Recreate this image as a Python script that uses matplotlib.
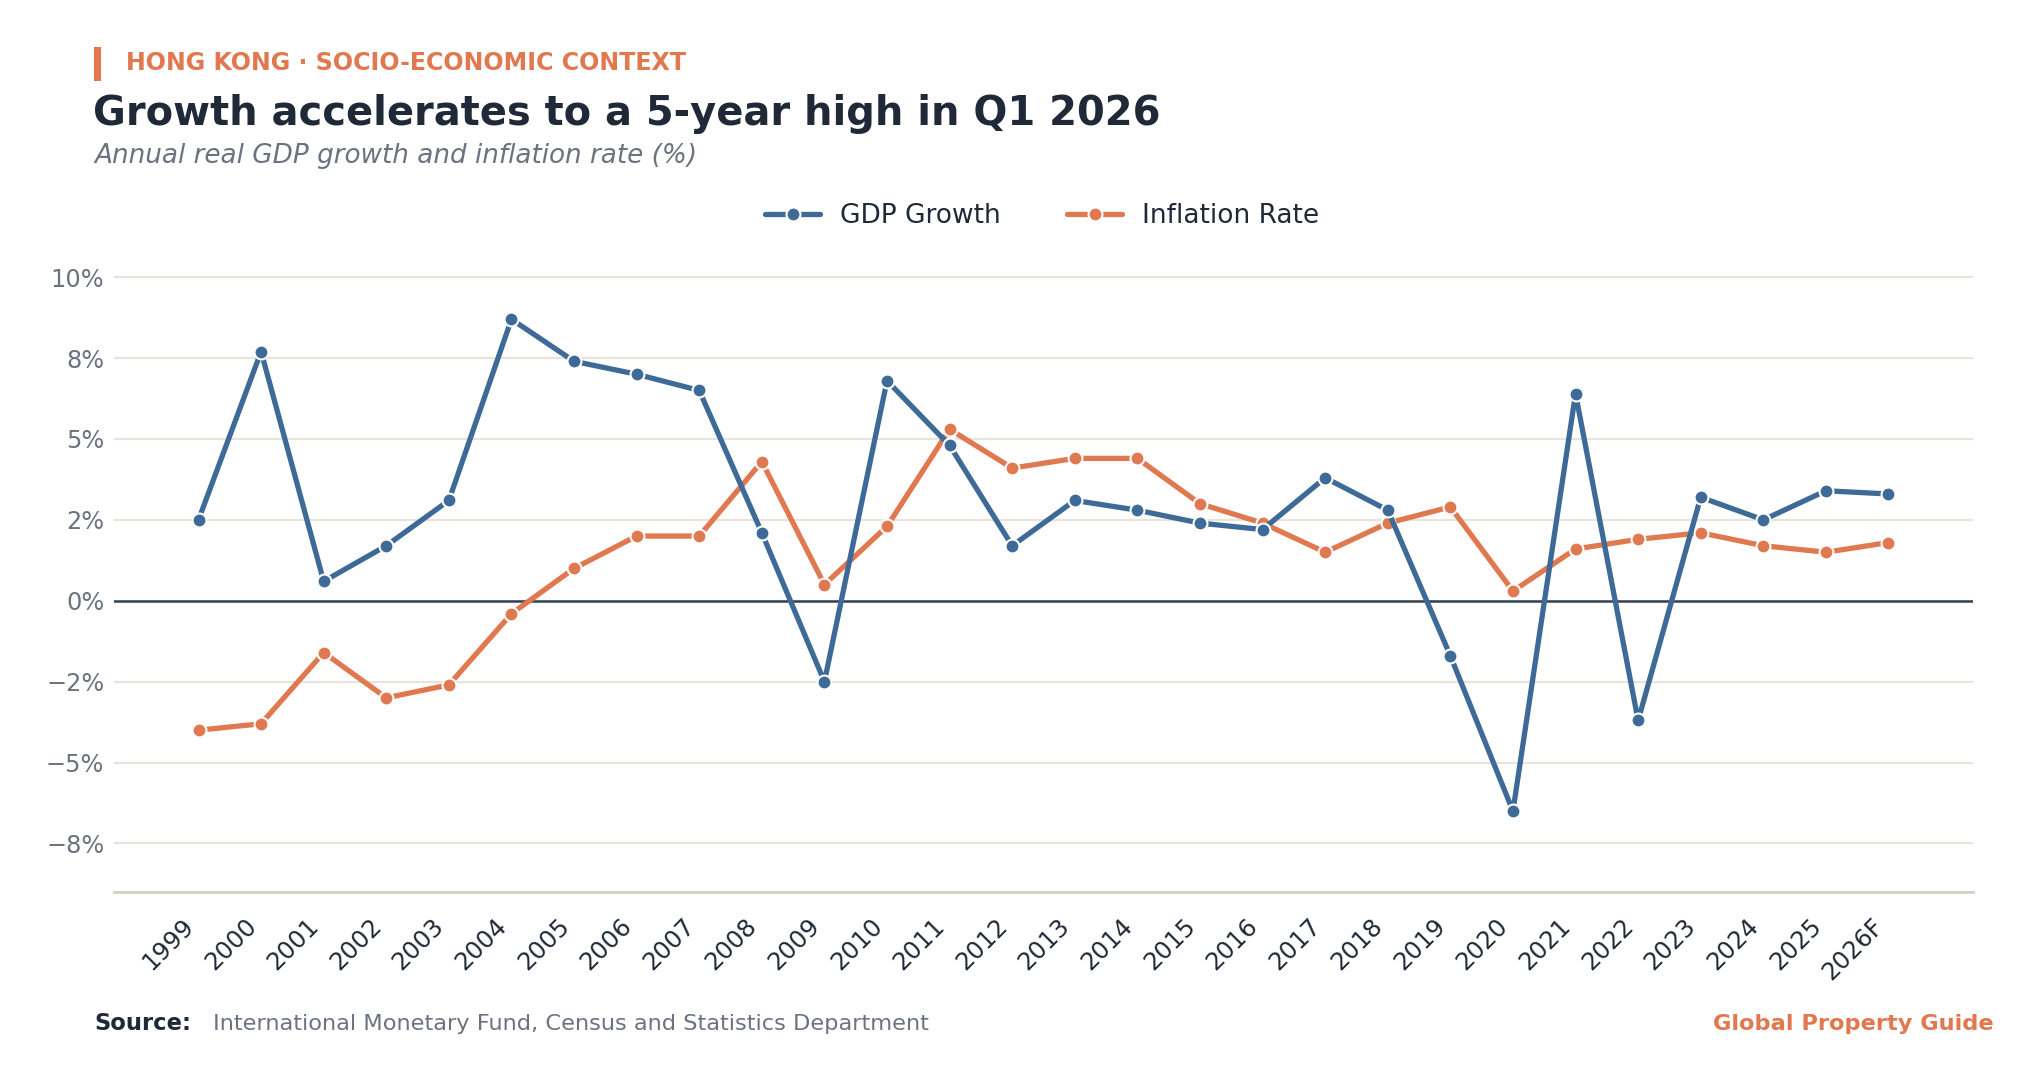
import matplotlib
matplotlib.use("Agg")
import matplotlib.pyplot as plt
from matplotlib.ticker import FuncFormatter, MultipleLocator
from matplotlib.patches import Rectangle

years = ["1999", "2000", "2001", "2002", "2003", "2004", "2005", "2006", "2007",
         "2008", "2009", "2010", "2011", "2012", "2013", "2014", "2015", "2016",
         "2017", "2018", "2019", "2020", "2021", "2022", "2023", "2024", "2025", "2026F"]
gdp_growth = [2.5, 7.7, 0.6, 1.7, 3.1, 8.7, 7.4, 7.0, 6.5, 2.1, -2.5, 6.8, 4.8, 1.7,
              3.1, 2.8, 2.4, 2.2, 3.8, 2.8, -1.7, -6.5, 6.4, -3.7, 3.2, 2.5, 3.4, 3.3]
inflation = [-4.0, -3.8, -1.6, -3.0, -2.6, -0.4, 1.0, 2.0, 2.0, 4.3, 0.5, 2.3, 5.3, 4.1,
             4.4, 4.4, 3.0, 2.4, 1.5, 2.4, 2.9, 0.3, 1.6, 1.9, 2.1, 1.7, 1.5, 1.8]

BLUE = "#3d6a96"
ORANGE = "#e07850"
DARK = "#1f2937"
GRAY = "#6b7280"

W, H = 2039, 1079
fig = plt.figure(figsize=(W / 100, H / 100), dpi=100)
plt.rcParams['font.family'] = ['DejaVu Sans']

def fx(px):
    return px / W

def fy(py):
    return 1 - py / H

ax_left, ax_right, ax_top, ax_bottom = 114, 1973, 261, 892
ax = fig.add_axes([fx(ax_left), fy(ax_bottom), fx(ax_right - ax_left), (ax_bottom - ax_top) / H])

x = list(range(len(years)))
ax.plot(x, gdp_growth, color=BLUE, lw=3.8, marker='o', ms=10, mec='white', mew=1.5,
        label="GDP Growth", zorder=4, solid_capstyle='round')
ax.plot(x, inflation, color=ORANGE, lw=3.8, marker='o', ms=10, mec='white', mew=1.5,
        label="Inflation Rate", zorder=3, solid_capstyle='round')

ax.set_xlim(-1.35, len(years) - 1 + 1.35)
ax.set_ylim(-9.0, 10.5)
ax.yaxis.set_major_locator(MultipleLocator(2.5))
ax.yaxis.set_major_formatter(FuncFormatter(lambda v, p: "{:.0f}%".format(v).replace("-", "\u2212")))
ax.grid(axis='y', color='#e8e4dc', lw=1.6, zorder=0)
ax.set_axisbelow(True)
ax.axhline(0, color='#334155', lw=1.8, zorder=2)

ax.set_xticks(x)
ax.set_xticklabels(years, rotation=45, ha='right', fontsize=17.5, color=DARK)
ax.tick_params(axis='x', length=0, pad=16)
ax.tick_params(axis='y', length=0, labelsize=17.3, labelcolor=GRAY, pad=7)
for s in ['top', 'right', 'left']:
    ax.spines[s].set_visible(False)
ax.spines['bottom'].set_color('#d6d0c4')
ax.spines['bottom'].set_linewidth(2)

leg = fig.legend(loc='center', bbox_to_anchor=(fx(1042), fy(216)), ncol=2, frameon=False,
                 fontsize=19, handlelength=2.1, columnspacing=2.5, handletextpad=0.75)
for t in leg.get_texts():
    t.set_color(DARK)

# Header
fig.patches.append(Rectangle((fx(94), fy(81)), fx(7), (81 - 47) / H, transform=fig.transFigure,
                             color=ORANGE, lw=0))
fig.text(fx(126), fy(63), "HONG KONG · SOCIO-ECONOMIC CONTEXT", color=ORANGE, fontsize=17.1,
         fontweight='bold', va='center', ha='left')
fig.text(fx(93), fy(114), "Growth accelerates to a 5-year high in Q1 2026", color=DARK, fontsize=28.8,
         fontweight='bold', va='center', ha='left')
fig.text(fx(94), fy(156), "Annual real GDP growth and inflation rate (%)", color=GRAY, fontsize=18.9,
         style='italic', va='center', ha='left')

# Footer
fig.text(fx(94), fy(1024), "Source:", color=DARK, fontsize=16.3, fontweight='bold', va='center', ha='left')
fig.text(fx(213), fy(1024), "International Monetary Fund, Census and Statistics Department", color=GRAY,
         fontsize=16.2, va='center', ha='left')
fig.text(fx(1994), fy(1024), "Global Property Guide", color=ORANGE, fontsize=16.2, fontweight='bold',
         va='center', ha='right')

fig.savefig("out.png", dpi=100, facecolor='white')
